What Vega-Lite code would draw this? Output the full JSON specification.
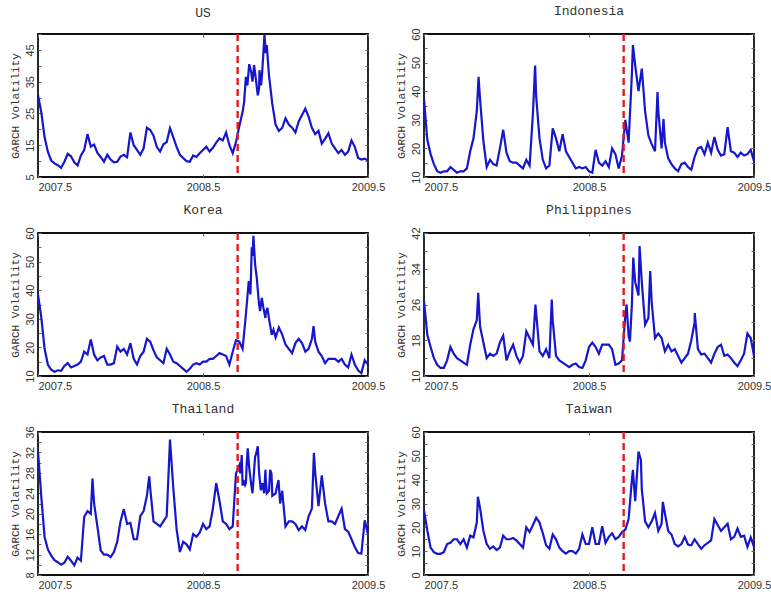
{
  "$schema": "https://vega.github.io/schema/vega-lite/v6.json",
  "background": "white",
  "padding": {"left": 8, "top": 3, "right": 5, "bottom": 5},
  "bounds": "flush",
  "columns": 2,
  "spacing": {"row": 56, "column": 56},
  "config": {
    "view": {"stroke": "#111", "strokeWidth": 1.8},
    "axis": {
      "grid": false, "domain": false,
      "labelFont": "Liberation Sans", "labelFontSize": 11, "labelColor": "#333",
      "tickColor": "#666", "tickSize": -3, "tickWidth": 1,
      "titleFont": "Liberation Mono", "titleFontSize": 11, "titleFontWeight": "normal", "titleColor": "#333"
    },
    "axisX": {"labelPadding": 7, "labelFlush": false, "title": null},
    "axisY": {"labelAngle": 270, "labelPadding": 6, "titlePadding": 4},
    "title": {"font": "Liberation Mono", "fontSize": 13, "fontWeight": "normal", "color": "#333", "anchor": "middle", "offset": 10},
    "line": {"color": "#1616cc", "strokeWidth": 2.2, "clip": true},
    "rule": {"color": "#e01c1c", "strokeDash": [7, 4], "strokeWidth": 2.4}
  },
  "datasets": {
    "event": [{"t": 2008.71}],
    "US": [
      {"t":2007.5,"v":30.7},{"t":2007.52,"v":25.4},{"t":2007.54,"v":17.5},{"t":2007.56,"v":12.9},{"t":2007.58,"v":10.2},
      {"t":2007.6,"v":9.3},{"t":2007.62,"v":8.7},{"t":2007.64,"v":7.9},{"t":2007.66,"v":9.8},{"t":2007.68,"v":12.3},
      {"t":2007.7,"v":11.5},{"t":2007.72,"v":9.6},{"t":2007.74,"v":8.6},{"t":2007.76,"v":11.8},{"t":2007.78,"v":13.5},
      {"t":2007.8,"v":18.5},{"t":2007.82,"v":14.6},{"t":2007.84,"v":15.2},{"t":2007.86,"v":12.6},{"t":2007.88,"v":11.3},
      {"t":2007.9,"v":9.8},{"t":2007.92,"v":12.0},{"t":2007.94,"v":10.5},{"t":2007.96,"v":9.6},{"t":2007.98,"v":9.8},
      {"t":2008.0,"v":11.4},{"t":2008.02,"v":12.0},{"t":2008.04,"v":11.2},{"t":2008.06,"v":19.0},{"t":2008.08,"v":15.0},
      {"t":2008.1,"v":13.5},{"t":2008.12,"v":12.0},{"t":2008.14,"v":14.0},{"t":2008.16,"v":20.5},{"t":2008.18,"v":19.8},
      {"t":2008.2,"v":18.0},{"t":2008.22,"v":14.5},{"t":2008.24,"v":13.0},{"t":2008.26,"v":15.3},{"t":2008.28,"v":16.0},
      {"t":2008.3,"v":20.4},{"t":2008.32,"v":17.5},{"t":2008.34,"v":14.5},{"t":2008.36,"v":12.0},{"t":2008.38,"v":11.0},
      {"t":2008.4,"v":10.0},{"t":2008.42,"v":9.8},{"t":2008.44,"v":11.8},{"t":2008.46,"v":11.3},{"t":2008.48,"v":12.5},
      {"t":2008.5,"v":13.5},{"t":2008.52,"v":14.5},{"t":2008.54,"v":13.0},{"t":2008.56,"v":14.2},{"t":2008.58,"v":15.8},
      {"t":2008.6,"v":17.2},{"t":2008.62,"v":16.5},{"t":2008.64,"v":19.0},{"t":2008.66,"v":15.0},{"t":2008.68,"v":12.5},
      {"t":2008.7,"v":16.0},{"t":2008.72,"v":21.0},{"t":2008.74,"v":25.5},{"t":2008.749,"v":28.5},{"t":2008.76,"v":36.5},
      {"t":2008.769,"v":33.8},{"t":2008.78,"v":40.5},{"t":2008.7915,"v":38.1},{"t":2008.8,"v":35.0},{"t":2008.8097,"v":40.2},
      {"t":2008.82,"v":36.0},{"t":2008.832,"v":30.7},{"t":2008.84,"v":33.0},{"t":2008.8421,"v":38.6},{"t":2008.8522,"v":33.8},
      {"t":2008.86,"v":39.0},{"t":2008.8725,"v":49.8},{"t":2008.88,"v":44.0},{"t":2008.8867,"v":46.5},{"t":2008.8968,"v":39.1},
      {"t":2008.9,"v":37.0},{"t":2008.92,"v":28.0},{"t":2008.94,"v":21.5},{"t":2008.96,"v":19.5},
      {"t":2008.98,"v":20.5},{"t":2009.0,"v":23.5},{"t":2009.02,"v":21.5},{"t":2009.04,"v":20.5},{"t":2009.06,"v":19.0},
      {"t":2009.08,"v":22.5},{"t":2009.1,"v":24.5},{"t":2009.12,"v":26.5},{"t":2009.14,"v":24.0},{"t":2009.16,"v":20.5},
      {"t":2009.18,"v":18.5},{"t":2009.2,"v":19.5},{"t":2009.22,"v":15.5},{"t":2009.24,"v":17.0},{"t":2009.26,"v":18.8},
      {"t":2009.28,"v":15.5},{"t":2009.3,"v":14.0},{"t":2009.32,"v":12.5},{"t":2009.34,"v":13.5},{"t":2009.36,"v":12.0},
      {"t":2009.38,"v":13.0},{"t":2009.4,"v":16.5},{"t":2009.42,"v":14.5},{"t":2009.44,"v":11.0},{"t":2009.46,"v":10.5},
      {"t":2009.48,"v":10.8},{"t":2009.5,"v":10.2}
    ],
    "Indonesia": [
      {"t":2007.5,"v":37.3},{"t":2007.52,"v":23.0},{"t":2007.54,"v":18.0},{"t":2007.56,"v":14.5},{"t":2007.58,"v":12.0},
      {"t":2007.6,"v":11.5},{"t":2007.62,"v":12.0},{"t":2007.64,"v":12.0},{"t":2007.66,"v":13.5},{"t":2007.68,"v":12.5},
      {"t":2007.7,"v":11.5},{"t":2007.72,"v":12.0},{"t":2007.74,"v":12.0},{"t":2007.76,"v":13.0},{"t":2007.78,"v":19.0},
      {"t":2007.8,"v":23.5},{"t":2007.82,"v":33.0},{"t":2007.8306,"v":45.0},{"t":2007.84,"v":37.0},{"t":2007.86,"v":22.5},
      {"t":2007.88,"v":13.5},{"t":2007.9,"v":16.0},{"t":2007.92,"v":14.5},{"t":2007.94,"v":14.0},{"t":2007.96,"v":20.0},
      {"t":2007.98,"v":26.5},{"t":2008.0,"v":18.5},{"t":2008.02,"v":15.5},{"t":2008.04,"v":15.0},{"t":2008.06,"v":15.0},
      {"t":2008.08,"v":14.0},{"t":2008.1,"v":13.0},{"t":2008.12,"v":16.0},{"t":2008.14,"v":14.0},{"t":2008.16,"v":32.0},
      {"t":2008.1734,"v":49.0},{"t":2008.18,"v":38.0},{"t":2008.2,"v":23.5},{"t":2008.22,"v":16.0},{"t":2008.24,"v":13.0},
      {"t":2008.26,"v":14.0},{"t":2008.28,"v":27.0},{"t":2008.3,"v":23.5},{"t":2008.32,"v":19.0},{"t":2008.34,"v":25.0},
      {"t":2008.36,"v":19.0},{"t":2008.38,"v":17.0},{"t":2008.4,"v":15.0},{"t":2008.42,"v":13.0},{"t":2008.44,"v":13.5},
      {"t":2008.46,"v":13.0},{"t":2008.48,"v":13.5},{"t":2008.5,"v":12.0},{"t":2008.52,"v":11.5},{"t":2008.54,"v":19.5},
      {"t":2008.56,"v":15.0},{"t":2008.58,"v":14.0},{"t":2008.6,"v":15.5},{"t":2008.62,"v":13.5},{"t":2008.64,"v":20.0},
      {"t":2008.66,"v":18.0},{"t":2008.68,"v":13.0},{"t":2008.7,"v":17.5},{"t":2008.72,"v":30.0},{"t":2008.74,"v":22.0},
      {"t":2008.76,"v":46.0},{"t":2008.7661,"v":56.1},{"t":2008.78,"v":49.0},{"t":2008.8,"v":40.0},{"t":2008.82,"v":47.9},
      {"t":2008.84,"v":33.0},{"t":2008.86,"v":24.5},{"t":2008.88,"v":21.5},{"t":2008.9,"v":19.0},{"t":2008.9153,"v":39.7},
      {"t":2008.92,"v":33.0},{"t":2008.94,"v":20.0},{"t":2008.9516,"v":30.3},{"t":2008.96,"v":22.0},{"t":2008.98,"v":16.5},
      {"t":2009.0,"v":14.5},{"t":2009.02,"v":13.0},{"t":2009.04,"v":12.0},{"t":2009.06,"v":14.5},{"t":2009.08,"v":15.0},
      {"t":2009.1,"v":13.5},{"t":2009.12,"v":12.5},{"t":2009.14,"v":17.0},{"t":2009.16,"v":20.0},{"t":2009.18,"v":20.5},
      {"t":2009.2,"v":18.0},{"t":2009.22,"v":22.0},{"t":2009.24,"v":18.5},{"t":2009.26,"v":24.0},{"t":2009.28,"v":19.5},
      {"t":2009.3,"v":17.5},{"t":2009.32,"v":18.0},{"t":2009.34,"v":27.4},{"t":2009.36,"v":19.0},{"t":2009.38,"v":18.5},
      {"t":2009.4,"v":17.0},{"t":2009.42,"v":18.5},{"t":2009.44,"v":17.5},{"t":2009.46,"v":18.0},{"t":2009.48,"v":19.5},
      {"t":2009.5,"v":15.5}
    ],
    "Korea": [
      {"t":2007.5,"v":38.5},{"t":2007.52,"v":30.5},{"t":2007.54,"v":19.5},{"t":2007.56,"v":13.9},{"t":2007.58,"v":12.2},
      {"t":2007.6,"v":11.5},{"t":2007.62,"v":12.0},{"t":2007.64,"v":11.8},{"t":2007.66,"v":13.5},{"t":2007.68,"v":14.5},
      {"t":2007.7,"v":13.0},{"t":2007.72,"v":13.5},{"t":2007.74,"v":14.0},{"t":2007.76,"v":15.0},{"t":2007.78,"v":18.5},
      {"t":2007.8,"v":17.5},{"t":2007.82,"v":22.8},{"t":2007.84,"v":17.5},{"t":2007.86,"v":15.5},{"t":2007.88,"v":16.5},
      {"t":2007.9,"v":17.0},{"t":2007.92,"v":14.0},{"t":2007.94,"v":14.0},{"t":2007.96,"v":14.5},{"t":2007.98,"v":20.3},
      {"t":2008.0,"v":18.5},{"t":2008.02,"v":19.5},{"t":2008.04,"v":17.5},{"t":2008.06,"v":21.5},{"t":2008.08,"v":16.0},
      {"t":2008.1,"v":14.0},{"t":2008.12,"v":17.0},{"t":2008.14,"v":18.5},{"t":2008.16,"v":23.0},{"t":2008.18,"v":22.0},
      {"t":2008.2,"v":19.0},{"t":2008.22,"v":16.5},{"t":2008.24,"v":15.5},{"t":2008.26,"v":14.5},{"t":2008.28,"v":19.5},
      {"t":2008.3,"v":17.5},{"t":2008.32,"v":15.0},{"t":2008.34,"v":14.5},{"t":2008.36,"v":13.5},{"t":2008.38,"v":12.5},
      {"t":2008.4,"v":11.5},{"t":2008.42,"v":12.5},{"t":2008.44,"v":14.0},{"t":2008.46,"v":14.5},{"t":2008.48,"v":14.0},
      {"t":2008.5,"v":15.0},{"t":2008.52,"v":15.0},{"t":2008.54,"v":16.0},{"t":2008.56,"v":16.0},{"t":2008.58,"v":17.0},
      {"t":2008.6,"v":18.0},{"t":2008.62,"v":17.5},{"t":2008.64,"v":17.0},{"t":2008.66,"v":14.0},{"t":2008.68,"v":18.5},
      {"t":2008.7,"v":22.5},{"t":2008.72,"v":22.0},{"t":2008.74,"v":19.5},{"t":2008.76,"v":31.5},{"t":2008.7773,"v":43.2},
      {"t":2008.78,"v":42.0},{"t":2008.7875,"v":38.5},{"t":2008.7956,"v":55.0},{"t":2008.8,"v":52.0},{"t":2008.8057,"v":59.0},
      {"t":2008.8158,"v":49.0},{"t":2008.82,"v":47.0},{"t":2008.8259,"v":44.4},{"t":2008.836,"v":37.3},{"t":2008.84,"v":35.0},
      {"t":2008.8462,"v":32.7},{"t":2008.8563,"v":37.3},{"t":2008.86,"v":36.0},{"t":2008.8664,"v":33.8},{"t":2008.8785,"v":30.3},
      {"t":2008.88,"v":32.0},{"t":2008.8907,"v":33.8},{"t":2008.9,"v":30.0},{"t":2008.9028,"v":29.1},{"t":2008.917,"v":24.4},
      {"t":2008.92,"v":25.0},{"t":2008.9271,"v":26.2},{"t":2008.94,"v":23.5},{"t":2008.96,"v":27.0},
      {"t":2008.98,"v":24.5},{"t":2009.0,"v":21.0},{"t":2009.02,"v":19.5},{"t":2009.04,"v":18.0},{"t":2009.06,"v":21.5},
      {"t":2009.08,"v":23.0},{"t":2009.1,"v":21.5},{"t":2009.12,"v":18.5},{"t":2009.14,"v":19.5},{"t":2009.16,"v":23.0},
      {"t":2009.17,"v":27.4},{"t":2009.18,"v":22.0},{"t":2009.2,"v":18.5},{"t":2009.22,"v":17.0},{"t":2009.24,"v":14.5},
      {"t":2009.26,"v":16.0},{"t":2009.28,"v":16.0},{"t":2009.3,"v":16.0},{"t":2009.32,"v":15.0},{"t":2009.34,"v":16.0},
      {"t":2009.36,"v":14.0},{"t":2009.38,"v":13.0},{"t":2009.4,"v":17.5},{"t":2009.42,"v":14.0},{"t":2009.44,"v":12.0},
      {"t":2009.46,"v":11.0},{"t":2009.48,"v":15.5},{"t":2009.5,"v":14.0}
    ],
    "Philippines": [
      {"t":2007.5,"v":26.8},{"t":2007.52,"v":19.2},{"t":2007.54,"v":16.5},{"t":2007.56,"v":14.0},{"t":2007.58,"v":12.5},
      {"t":2007.6,"v":11.8},{"t":2007.62,"v":11.8},{"t":2007.64,"v":13.5},{"t":2007.66,"v":16.5},{"t":2007.68,"v":15.0},
      {"t":2007.7,"v":14.0},{"t":2007.72,"v":13.5},{"t":2007.74,"v":13.0},{"t":2007.76,"v":12.5},{"t":2007.78,"v":17.0},
      {"t":2007.8,"v":20.5},{"t":2007.82,"v":22.5},{"t":2007.8286,"v":28.6},{"t":2007.84,"v":21.0},{"t":2007.86,"v":17.5},
      {"t":2007.88,"v":14.0},{"t":2007.9,"v":15.0},{"t":2007.92,"v":14.5},{"t":2007.94,"v":15.0},{"t":2007.96,"v":17.5},
      {"t":2007.98,"v":19.0},{"t":2008.0,"v":13.5},{"t":2008.02,"v":15.5},{"t":2008.04,"v":17.0},{"t":2008.06,"v":14.5},
      {"t":2008.08,"v":13.0},{"t":2008.1,"v":14.5},{"t":2008.12,"v":20.0},{"t":2008.14,"v":18.5},{"t":2008.16,"v":17.0},
      {"t":2008.1754,"v":26.0},{"t":2008.18,"v":24.0},{"t":2008.2,"v":15.5},{"t":2008.22,"v":14.5},{"t":2008.24,"v":16.0},
      {"t":2008.26,"v":14.0},{"t":2008.2742,"v":27.1},{"t":2008.28,"v":22.5},{"t":2008.3,"v":14.5},{"t":2008.32,"v":13.5},
      {"t":2008.34,"v":13.0},{"t":2008.36,"v":12.5},{"t":2008.38,"v":12.0},{"t":2008.4,"v":12.5},{"t":2008.42,"v":12.8},
      {"t":2008.44,"v":12.0},{"t":2008.46,"v":11.8},{"t":2008.48,"v":13.5},{"t":2008.5,"v":16.5},{"t":2008.52,"v":17.5},
      {"t":2008.54,"v":16.5},{"t":2008.56,"v":15.0},{"t":2008.58,"v":17.0},{"t":2008.6,"v":17.0},{"t":2008.62,"v":17.0},
      {"t":2008.64,"v":16.0},{"t":2008.66,"v":12.5},{"t":2008.68,"v":12.8},{"t":2008.7,"v":13.5},{"t":2008.72,"v":23.5},
      {"t":2008.7278,"v":26.0},{"t":2008.74,"v":19.0},{"t":2008.748,"v":17.7},{"t":2008.76,"v":26.0},{"t":2008.7681,"v":36.5},
      {"t":2008.78,"v":31.0},{"t":2008.8,"v":28.0},{"t":2008.8064,"v":39.1},{"t":2008.82,"v":31.0},{"t":2008.84,"v":21.5},
      {"t":2008.86,"v":23.0},{"t":2008.8709,"v":33.5},{"t":2008.88,"v":26.5},{"t":2008.9,"v":18.5},{"t":2008.92,"v":19.5},
      {"t":2008.94,"v":18.5},{"t":2008.96,"v":15.5},{"t":2008.98,"v":17.0},{"t":2009.0,"v":15.5},{"t":2009.02,"v":16.0},
      {"t":2009.04,"v":14.5},{"t":2009.06,"v":13.0},{"t":2009.08,"v":14.0},{"t":2009.1,"v":15.0},{"t":2009.12,"v":18.0},
      {"t":2009.1411,"v":24.1},{"t":2009.14,"v":22.0},{"t":2009.16,"v":16.0},{"t":2009.18,"v":14.8},{"t":2009.2,"v":15.0},
      {"t":2009.22,"v":14.0},{"t":2009.24,"v":13.0},{"t":2009.26,"v":15.0},{"t":2009.28,"v":16.5},{"t":2009.3,"v":17.0},
      {"t":2009.32,"v":14.5},{"t":2009.34,"v":14.8},{"t":2009.36,"v":14.0},{"t":2009.38,"v":13.0},{"t":2009.4,"v":12.2},
      {"t":2009.42,"v":13.5},{"t":2009.44,"v":15.0},{"t":2009.46,"v":19.5},{"t":2009.48,"v":18.5},{"t":2009.5,"v":14.5}
    ],
    "Thailand": [
      {"t":2007.5,"v":32.2},{"t":2007.52,"v":23.3},{"t":2007.54,"v":15.4},{"t":2007.56,"v":13.0},{"t":2007.58,"v":11.8},
      {"t":2007.6,"v":10.9},{"t":2007.62,"v":10.5},{"t":2007.64,"v":10.0},{"t":2007.66,"v":10.4},{"t":2007.68,"v":11.6},
      {"t":2007.7,"v":10.8},{"t":2007.72,"v":9.9},{"t":2007.74,"v":11.4},{"t":2007.76,"v":10.8},{"t":2007.78,"v":19.4},
      {"t":2007.8,"v":20.5},{"t":2007.82,"v":20.0},{"t":2007.83,"v":26.9},{"t":2007.84,"v":22.0},{"t":2007.86,"v":17.5},
      {"t":2007.88,"v":12.8},{"t":2007.9,"v":12.0},{"t":2007.92,"v":12.0},{"t":2007.94,"v":11.5},{"t":2007.96,"v":12.5},
      {"t":2007.98,"v":14.5},{"t":2008.0,"v":18.5},{"t":2008.02,"v":20.9},{"t":2008.04,"v":18.0},{"t":2008.06,"v":18.2},
      {"t":2008.08,"v":15.0},{"t":2008.1,"v":15.0},{"t":2008.12,"v":19.5},{"t":2008.14,"v":20.5},{"t":2008.16,"v":23.5},
      {"t":2008.1741,"v":27.3},{"t":2008.18,"v":25.0},{"t":2008.2,"v":18.5},{"t":2008.22,"v":18.0},{"t":2008.24,"v":17.5},
      {"t":2008.26,"v":18.5},{"t":2008.28,"v":19.5},{"t":2008.3,"v":34.5},{"t":2008.32,"v":25.0},{"t":2008.34,"v":17.0},
      {"t":2008.36,"v":12.5},{"t":2008.38,"v":14.5},{"t":2008.4,"v":14.0},{"t":2008.42,"v":13.0},{"t":2008.44,"v":16.0},
      {"t":2008.46,"v":15.5},{"t":2008.48,"v":16.3},{"t":2008.5,"v":18.0},{"t":2008.52,"v":17.0},{"t":2008.54,"v":17.5},
      {"t":2008.56,"v":21.0},{"t":2008.58,"v":26.0},{"t":2008.6,"v":22.5},{"t":2008.62,"v":18.5},{"t":2008.64,"v":18.0},
      {"t":2008.66,"v":17.0},{"t":2008.68,"v":17.5},{"t":2008.7,"v":27.9},{"t":2008.7085,"v":28.6},{"t":2008.72,"v":29.5},
      {"t":2008.7267,"v":27.9},{"t":2008.7348,"v":31.5},{"t":2008.74,"v":25.5},{"t":2008.745,"v":26.6},{"t":2008.7551,"v":25.6},
      {"t":2008.76,"v":26.0},{"t":2008.7652,"v":29.9},{"t":2008.7713,"v":32.8},{"t":2008.78,"v":29.0},{"t":2008.7915,"v":25.9},
      {"t":2008.8,"v":24.0},{"t":2008.8158,"v":31.2},{"t":2008.82,"v":31.5},{"t":2008.832,"v":33.2},{"t":2008.84,"v":28.0},
      {"t":2008.8502,"v":24.6},{"t":2008.86,"v":26.0},{"t":2008.8704,"v":24.0},{"t":2008.8785,"v":28.6},{"t":2008.88,"v":27.0},
      {"t":2008.8866,"v":24.0},{"t":2008.9,"v":24.5},{"t":2008.9069,"v":28.6},{"t":2008.915,"v":27.9},{"t":2008.92,"v":23.5},
      {"t":2008.94,"v":24.0},{"t":2008.9575,"v":26.6},{"t":2008.96,"v":25.5},{"t":2008.9676,"v":22.0},
      {"t":2008.98,"v":24.5},{"t":2009.0,"v":17.5},{"t":2009.02,"v":18.5},{"t":2009.04,"v":18.5},{"t":2009.06,"v":18.0},
      {"t":2009.08,"v":16.8},{"t":2009.1,"v":17.5},{"t":2009.12,"v":16.8},{"t":2009.14,"v":19.5},{"t":2009.16,"v":21.0},
      {"t":2009.1721,"v":31.9},{"t":2009.18,"v":28.0},{"t":2009.2,"v":21.5},{"t":2009.22,"v":27.5},{"t":2009.24,"v":22.0},
      {"t":2009.26,"v":18.5},{"t":2009.28,"v":18.5},{"t":2009.3,"v":18.0},{"t":2009.32,"v":19.5},{"t":2009.34,"v":21.0},
      {"t":2009.36,"v":17.0},{"t":2009.38,"v":16.5},{"t":2009.4,"v":15.0},{"t":2009.42,"v":13.5},{"t":2009.44,"v":12.3},
      {"t":2009.46,"v":12.2},{"t":2009.48,"v":18.7},{"t":2009.5,"v":16.0}
    ],
    "Taiwan": [
      {"t":2007.5,"v":27.2},{"t":2007.52,"v":18.7},{"t":2007.54,"v":11.5},{"t":2007.56,"v":9.6},{"t":2007.58,"v":8.9},
      {"t":2007.6,"v":8.9},{"t":2007.62,"v":9.6},{"t":2007.64,"v":13.0},{"t":2007.66,"v":13.5},{"t":2007.68,"v":15.0},
      {"t":2007.7,"v":15.0},{"t":2007.72,"v":13.0},{"t":2007.74,"v":15.0},{"t":2007.76,"v":11.5},{"t":2007.78,"v":16.5},
      {"t":2007.8,"v":15.8},{"t":2007.82,"v":22.0},{"t":2007.8266,"v":32.8},{"t":2007.84,"v":28.0},{"t":2007.86,"v":18.5},
      {"t":2007.88,"v":13.0},{"t":2007.9,"v":11.0},{"t":2007.92,"v":12.0},{"t":2007.94,"v":10.5},{"t":2007.96,"v":11.5},
      {"t":2007.98,"v":16.5},{"t":2008.0,"v":15.0},{"t":2008.02,"v":15.0},{"t":2008.04,"v":15.5},{"t":2008.06,"v":14.5},
      {"t":2008.08,"v":13.0},{"t":2008.1,"v":11.5},{"t":2008.12,"v":20.0},{"t":2008.14,"v":18.0},{"t":2008.16,"v":21.0},
      {"t":2008.18,"v":24.0},{"t":2008.2,"v":22.0},{"t":2008.22,"v":17.5},{"t":2008.24,"v":12.5},{"t":2008.26,"v":11.0},
      {"t":2008.28,"v":17.0},{"t":2008.3,"v":15.0},{"t":2008.32,"v":11.5},{"t":2008.34,"v":10.0},{"t":2008.36,"v":9.0},
      {"t":2008.38,"v":10.0},{"t":2008.4,"v":10.0},{"t":2008.42,"v":9.0},{"t":2008.44,"v":11.0},{"t":2008.46,"v":17.0},
      {"t":2008.48,"v":13.0},{"t":2008.5,"v":13.0},{"t":2008.52,"v":20.0},{"t":2008.54,"v":13.0},{"t":2008.56,"v":13.0},
      {"t":2008.58,"v":20.5},{"t":2008.6,"v":13.5},{"t":2008.62,"v":16.0},{"t":2008.64,"v":17.5},{"t":2008.66,"v":15.0},
      {"t":2008.68,"v":16.0},{"t":2008.7,"v":18.0},{"t":2008.72,"v":19.0},{"t":2008.74,"v":23.5},{"t":2008.76,"v":39.9},
      {"t":2008.7661,"v":44.1},{"t":2008.78,"v":31.0},{"t":2008.8,"v":51.8},{"t":2008.8145,"v":48.3},{"t":2008.82,"v":36.0},
      {"t":2008.84,"v":22.5},{"t":2008.86,"v":20.0},{"t":2008.88,"v":22.5},{"t":2008.9,"v":26.0},{"t":2008.92,"v":18.5},
      {"t":2008.94,"v":21.5},{"t":2008.9476,"v":30.7},{"t":2008.96,"v":25.8},{"t":2008.98,"v":18.5},{"t":2009.0,"v":17.0},
      {"t":2009.02,"v":13.0},{"t":2009.04,"v":12.0},{"t":2009.06,"v":13.0},{"t":2009.08,"v":16.0},{"t":2009.1,"v":12.8},
      {"t":2009.12,"v":12.5},{"t":2009.14,"v":15.0},{"t":2009.16,"v":13.0},{"t":2009.18,"v":11.0},{"t":2009.2,"v":12.5},
      {"t":2009.22,"v":13.5},{"t":2009.24,"v":14.5},{"t":2009.26,"v":23.5},{"t":2009.28,"v":21.0},{"t":2009.3,"v":18.5},
      {"t":2009.32,"v":20.0},{"t":2009.34,"v":21.5},{"t":2009.36,"v":15.0},{"t":2009.38,"v":16.0},{"t":2009.4,"v":19.5},
      {"t":2009.42,"v":16.0},{"t":2009.44,"v":16.5},{"t":2009.46,"v":11.8},{"t":2009.48,"v":15.8},{"t":2009.5,"v":11.8}
    ]
  },
  "concat": [
    {
      "title": "US", "width": 330, "height": 143,
      "data": {"name": "US"},
      "resolve": {"scale": {"x": "independent", "y": "independent"}},
      "layer": [
        {"mark": "line", "encoding": {
          "x": {"field": "t", "type": "quantitative", "scale": {"domain": [2007.5, 2009.5], "nice": false}, "axis": {"values": [2007.5, 2008.5, 2009.5], "format": ".1f", "labelAlign": {"condition": {"test": "datum.value <= 2007.5", "value": "left"}, "value": "center"}}},
          "y": {"field": "v", "type": "quantitative", "scale": {"domain": [5, 50], "nice": false}, "axis": {"values": [5, 10, 15, 20, 25, 30, 35, 40, 45, 50], "labelExpr": "(datum.value - 5) % 10 == 0 ? datum.label : ''", "title": "GARCH Volatility"}}}},
        {"mark": {"type": "line", "opacity": 0}, "encoding": {
          "x": {"field": "t", "type": "quantitative", "scale": {"domain": [2007.5, 2009.5], "nice": false}, "axis": {"orient": "top", "values": [2007.5, 2008.5, 2009.5], "labels": false, "title": null}},
          "y": {"field": "v", "type": "quantitative", "scale": {"domain": [5, 50], "nice": false}, "axis": {"orient": "right", "values": [5, 10, 15, 20, 25, 30, 35, 40, 45, 50], "labels": false, "title": null}}}},
        {"data": {"name": "event"}, "mark": "rule", "encoding": {"x": {"field": "t", "type": "quantitative", "scale": {"domain": [2007.5, 2009.5], "nice": false}, "axis": null}}}
      ]
    },
    {
      "title": "Indonesia", "width": 330, "height": 143,
      "data": {"name": "Indonesia"},
      "resolve": {"scale": {"x": "independent", "y": "independent"}},
      "layer": [
        {"mark": "line", "encoding": {
          "x": {"field": "t", "type": "quantitative", "scale": {"domain": [2007.5, 2009.5], "nice": false}, "axis": {"values": [2007.5, 2008.5, 2009.5], "format": ".1f", "labelAlign": {"condition": {"test": "datum.value <= 2007.5", "value": "left"}, "value": "center"}}},
          "y": {"field": "v", "type": "quantitative", "scale": {"domain": [10, 60], "nice": false}, "axis": {"values": [10, 15, 20, 25, 30, 35, 40, 45, 50, 55, 60], "labelExpr": "datum.value % 10 == 0 ? datum.label : ''", "title": "GARCH Volatility"}}}},
        {"mark": {"type": "line", "opacity": 0}, "encoding": {
          "x": {"field": "t", "type": "quantitative", "scale": {"domain": [2007.5, 2009.5], "nice": false}, "axis": {"orient": "top", "values": [2007.5, 2008.5, 2009.5], "labels": false, "title": null}},
          "y": {"field": "v", "type": "quantitative", "scale": {"domain": [10, 60], "nice": false}, "axis": {"orient": "right", "values": [10, 15, 20, 25, 30, 35, 40, 45, 50, 55, 60], "labels": false, "title": null}}}},
        {"data": {"name": "event"}, "mark": "rule", "encoding": {"x": {"field": "t", "type": "quantitative", "scale": {"domain": [2007.5, 2009.5], "nice": false}, "axis": null}}}
      ]
    },
    {
      "title": "Korea", "width": 330, "height": 143,
      "data": {"name": "Korea"},
      "resolve": {"scale": {"x": "independent", "y": "independent"}},
      "layer": [
        {"mark": "line", "encoding": {
          "x": {"field": "t", "type": "quantitative", "scale": {"domain": [2007.5, 2009.5], "nice": false}, "axis": {"values": [2007.5, 2008.5, 2009.5], "format": ".1f", "labelAlign": {"condition": {"test": "datum.value <= 2007.5", "value": "left"}, "value": "center"}}},
          "y": {"field": "v", "type": "quantitative", "scale": {"domain": [10, 60], "nice": false}, "axis": {"values": [10, 15, 20, 25, 30, 35, 40, 45, 50, 55, 60], "labelExpr": "datum.value % 10 == 0 ? datum.label : ''", "title": "GARCH Volatility"}}}},
        {"mark": {"type": "line", "opacity": 0}, "encoding": {
          "x": {"field": "t", "type": "quantitative", "scale": {"domain": [2007.5, 2009.5], "nice": false}, "axis": {"orient": "top", "values": [2007.5, 2008.5, 2009.5], "labels": false, "title": null}},
          "y": {"field": "v", "type": "quantitative", "scale": {"domain": [10, 60], "nice": false}, "axis": {"orient": "right", "values": [10, 15, 20, 25, 30, 35, 40, 45, 50, 55, 60], "labels": false, "title": null}}}},
        {"data": {"name": "event"}, "mark": "rule", "encoding": {"x": {"field": "t", "type": "quantitative", "scale": {"domain": [2007.5, 2009.5], "nice": false}, "axis": null}}}
      ]
    },
    {
      "title": "Philippines", "width": 330, "height": 143,
      "data": {"name": "Philippines"},
      "resolve": {"scale": {"x": "independent", "y": "independent"}},
      "layer": [
        {"mark": "line", "encoding": {
          "x": {"field": "t", "type": "quantitative", "scale": {"domain": [2007.5, 2009.5], "nice": false}, "axis": {"values": [2007.5, 2008.5, 2009.5], "format": ".1f", "labelAlign": {"condition": {"test": "datum.value <= 2007.5", "value": "left"}, "value": "center"}}},
          "y": {"field": "v", "type": "quantitative", "scale": {"domain": [10, 42], "nice": false}, "axis": {"values": [10, 14, 18, 22, 26, 30, 34, 38, 42], "labelExpr": "(datum.value - 10) % 8 == 0 ? datum.label : ''", "title": "GARCH Volatility"}}}},
        {"mark": {"type": "line", "opacity": 0}, "encoding": {
          "x": {"field": "t", "type": "quantitative", "scale": {"domain": [2007.5, 2009.5], "nice": false}, "axis": {"orient": "top", "values": [2007.5, 2008.5, 2009.5], "labels": false, "title": null}},
          "y": {"field": "v", "type": "quantitative", "scale": {"domain": [10, 42], "nice": false}, "axis": {"orient": "right", "values": [10, 14, 18, 22, 26, 30, 34, 38, 42], "labels": false, "title": null}}}},
        {"data": {"name": "event"}, "mark": "rule", "encoding": {"x": {"field": "t", "type": "quantitative", "scale": {"domain": [2007.5, 2009.5], "nice": false}, "axis": null}}}
      ]
    },
    {
      "title": "Thailand", "width": 330, "height": 143,
      "data": {"name": "Thailand"},
      "resolve": {"scale": {"x": "independent", "y": "independent"}},
      "layer": [
        {"mark": "line", "encoding": {
          "x": {"field": "t", "type": "quantitative", "scale": {"domain": [2007.5, 2009.5], "nice": false}, "axis": {"values": [2007.5, 2008.5, 2009.5], "format": ".1f", "labelAlign": {"condition": {"test": "datum.value <= 2007.5", "value": "left"}, "value": "center"}}},
          "y": {"field": "v", "type": "quantitative", "scale": {"domain": [8, 36], "nice": false}, "axis": {"values": [8, 10, 12, 14, 16, 18, 20, 22, 24, 26, 28, 30, 32, 34, 36], "labelExpr": "datum.value % 4 == 0 ? datum.label : ''", "title": "GARCH Volatility"}}}},
        {"mark": {"type": "line", "opacity": 0}, "encoding": {
          "x": {"field": "t", "type": "quantitative", "scale": {"domain": [2007.5, 2009.5], "nice": false}, "axis": {"orient": "top", "values": [2007.5, 2008.5, 2009.5], "labels": false, "title": null}},
          "y": {"field": "v", "type": "quantitative", "scale": {"domain": [8, 36], "nice": false}, "axis": {"orient": "right", "values": [8, 10, 12, 14, 16, 18, 20, 22, 24, 26, 28, 30, 32, 34, 36], "labels": false, "title": null}}}},
        {"data": {"name": "event"}, "mark": "rule", "encoding": {"x": {"field": "t", "type": "quantitative", "scale": {"domain": [2007.5, 2009.5], "nice": false}, "axis": null}}}
      ]
    },
    {
      "title": "Taiwan", "width": 330, "height": 143,
      "data": {"name": "Taiwan"},
      "resolve": {"scale": {"x": "independent", "y": "independent"}},
      "layer": [
        {"mark": "line", "encoding": {
          "x": {"field": "t", "type": "quantitative", "scale": {"domain": [2007.5, 2009.5], "nice": false}, "axis": {"values": [2007.5, 2008.5, 2009.5], "format": ".1f", "labelAlign": {"condition": {"test": "datum.value <= 2007.5", "value": "left"}, "value": "center"}}},
          "y": {"field": "v", "type": "quantitative", "scale": {"domain": [0, 60], "nice": false}, "axis": {"values": [0, 5, 10, 15, 20, 25, 30, 35, 40, 45, 50, 55, 60], "labelExpr": "datum.value % 10 == 0 ? datum.label : ''", "title": "GARCH Volatility"}}}},
        {"mark": {"type": "line", "opacity": 0}, "encoding": {
          "x": {"field": "t", "type": "quantitative", "scale": {"domain": [2007.5, 2009.5], "nice": false}, "axis": {"orient": "top", "values": [2007.5, 2008.5, 2009.5], "labels": false, "title": null}},
          "y": {"field": "v", "type": "quantitative", "scale": {"domain": [0, 60], "nice": false}, "axis": {"orient": "right", "values": [0, 5, 10, 15, 20, 25, 30, 35, 40, 45, 50, 55, 60], "labels": false, "title": null}}}},
        {"data": {"name": "event"}, "mark": "rule", "encoding": {"x": {"field": "t", "type": "quantitative", "scale": {"domain": [2007.5, 2009.5], "nice": false}, "axis": null}}}
      ]
    }
  ]
}
